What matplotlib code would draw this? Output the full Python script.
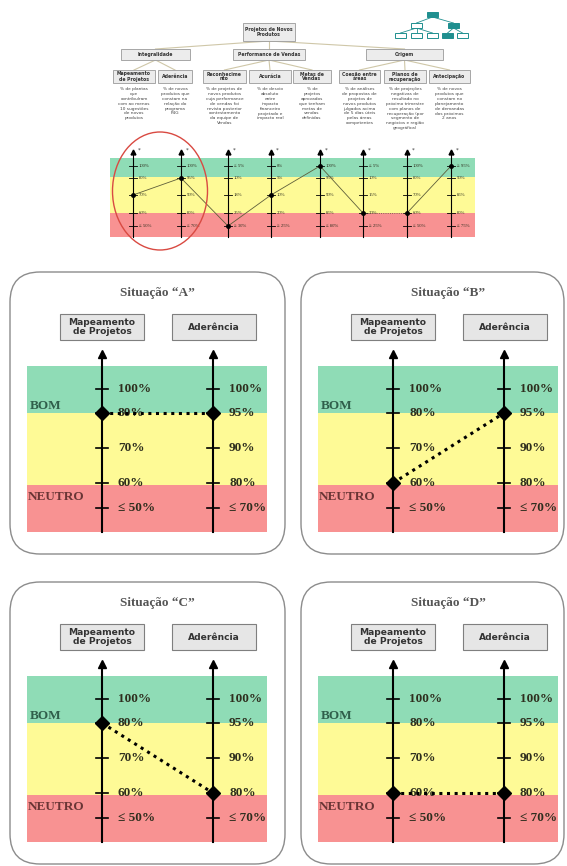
import matplotlib.pyplot as plt
from matplotlib.patches import FancyBboxPatch, Rectangle, Ellipse

# indicator tree
root_label = "Projetos de Novos\nProdutos"
groups = ["Integralidade", "Performance de Vendas", "Origem"]
indicators = ["Mapeamento\nde Projetos", "Aderência", "Reconhecime\nnto", "Acurácia",
              "Metas de\nVendas", "Coesão entre\náreas", "Planos de\nrecuperação", "Antecipação"]
group_of = [0, 0, 1, 1, 1, 2, 2, 2]
descriptions = [
    "% de plantas\nque\ncontribuíram\ncom ao menos\n10 sugestões\nde novos\nprodutos",
    "% de novos\nprodutos que\nconstam na\nrelação do\nprograma\nP4G",
    "% de projetos de\nnovos produtos\ncuja performance\nde vendas foi\nrevista posterior\ncontestamento\nda equipe de\nVendas",
    "% de desvio\nabsoluto\nentre\nimpacto\nfinanceiro\nprojetado e\nimpacto real",
    "% de\nprojetos\naprovados\nque tenham\nmetas de\nvendas\ndefinidas",
    "% de análises\nde propostas de\nprojetos de\nnovos produtos\njulgados acima\nde 5 dias úteis\npelas áreas\ncompetentes",
    "% de projeções\nnegativas de\nresultado no\npróximo trimestre\ncom planos de\nrecuperação (por\nsegmento de\nnegócios e região\ngeográfica)",
    "% de novos\nprodutos que\nconstam no\nplanejamento\nde demandas\ndos próximos\n2 anos",
]
scale_labels = [
    ["100%", "80%", "70%", "60%", "≤ 50%"],
    ["100%", "95%", "90%", "80%", "≤ 70%"],
    ["≤ 5%", "10%", "18%", "25%", "≥ 30%"],
    ["0%", "5%", "10%", "20%", "≥ 25%"],
    ["100%", "95%", "90%", "85%", "≤ 80%"],
    ["≤ 5%", "10%", "15%", "20%", "≥ 25%"],
    ["100%", "80%", "70%", "60%", "≤ 50%"],
    ["≥ 95%", "90%", "85%", "80%", "≤ 75%"],
]
# level reached by each indicator (0 = top of scale)
current_level = [2, 1, 4, 2, 0, 3, 3, 0]

# situations for the first two indicators
situations = ["A", "B", "C", "D"]
sit_mapeamento = [1, 3, 1, 3]
sit_aderencia = [1, 1, 3, 3]

GREEN = "#8fdcb6"
YELLOW = "#fefa96"
RED = "#f89292"
SERIF = ["Liberation Serif", "DejaVu Serif"]

W, H = 567, 866
fig = plt.figure(figsize=(W / 100, H / 100), dpi=100)
ax = fig.add_axes([0, 0, 1, 1])
ax.set_xlim(0, W)
ax.set_ylim(H, 0)
ax.axis("off")


def box(x, y, w, h, text, fs, fc="#ececec", ec="#9a9a9a", lw=0.6):
    ax.add_patch(Rectangle((x, y), w, h, facecolor=fc, edgecolor=ec, lw=lw))
    ax.text(x + w / 2, y + h / 2, text, ha="center", va="center", fontsize=fs,
            fontweight="bold", color="#333333", linespacing=1.0)


# --- tree ---
line_c = "#cfc7a8"
root = (243, 23, 52, 18)
g_boxes = [(121, 49, 69, 11), (233, 49, 72, 11), (366, 49, 77, 11)]
i_boxes = [(113, 155), (158, 192), (203, 246), (249, 291), (293, 331),
           (339, 380), (384, 426), (429, 470)]
rx = root[0] + root[2] / 2
for gb in g_boxes:
    ax.plot([rx, gb[0] + gb[2] / 2], [root[1] + root[3], gb[1]], color=line_c, lw=0.8, zorder=1)
for i, (x0, x1) in enumerate(i_boxes):
    gb = g_boxes[group_of[i]]
    ax.plot([gb[0] + gb[2] / 2, (x0 + x1) / 2], [gb[1] + gb[3], 70], color=line_c, lw=0.8, zorder=1)
box(*root, root_label, 3.3)
for gb, g in zip(g_boxes, groups):
    box(*gb, g, 3.3)
for (x0, x1), name, desc in zip(i_boxes, indicators, descriptions):
    box(x0, 70, x1 - x0, 13, name, 3.3)
    ax.text((x0 + x1) / 2, 87, desc, ha="center", va="top", fontsize=3.1,
            color="#444444", linespacing=1.3)

# small tree icon
teal = "#1f8f8f"
icon = [(427, 12, True), (411, 23, False), (448, 23, True),
        (395, 33, False), (411, 33, False), (427, 33, False), (442, 33, True), (457, 33, False)]
for a, b in [(0, 1), (0, 2), (1, 3), (1, 4), (1, 5), (2, 6), (2, 7)]:
    ax.plot([icon[a][0] + 5.5, icon[b][0] + 5.5], [icon[a][1] + 5, icon[b][1]], color=teal, lw=0.6)
for x, y, filled in icon:
    ax.add_patch(Rectangle((x, y), 11, 5, facecolor=teal if filled else "white",
                           edgecolor=teal, lw=0.7, zorder=3))

# --- scale strip ---
strip_x = [133, 181, 228, 271, 320, 363, 407, 451]
s_top, s_g, s_y, s_bot = 158, 177, 213, 237
s_ticks = [166, 178, 195, 213, 226]
ax.add_patch(Rectangle((110, s_top), 365, s_g - s_top, color=GREEN, lw=0))
ax.add_patch(Rectangle((110, s_g), 365, s_y - s_g, color=YELLOW, lw=0))
ax.add_patch(Rectangle((110, s_y), 365, s_bot - s_y, color=RED, lw=0))
for x, labels in zip(strip_x, scale_labels):
    ax.plot([x, x], [s_bot, 152], color="black", lw=0.8)
    ax.plot(x, 152, marker="^", color="black", ms=3.5)
    ax.text(x + 6, 150, "*", fontsize=4, color="#333333", ha="center", va="center")
    for ty, lab in zip(s_ticks, labels):
        ax.plot([x - 4, x + 4], [ty, ty], color="black", lw=0.6)
        ax.text(x + 6, ty, lab, fontsize=3.4, family=SERIF, color="#333322", va="center")
pts_y = [s_ticks[lv] for lv in current_level]
for i in range(len(strip_x) - 1):
    style = ":" if pts_y[i] == pts_y[i + 1] else "-"
    ax.plot(strip_x[i:i + 2], pts_y[i:i + 2], color="#5e5e3a", lw=0.6, ls=style, zorder=4)
ax.plot(strip_x, pts_y, "o", color="black", ms=2.5, lw=0, zorder=5)
ax.add_patch(Ellipse((160, 191), 95, 118, fill=False, edgecolor="#d94a42", lw=1.0, zorder=6))

# --- situation panels ---
offsets = [(0, 0), (291, 0), (0, 310), (291, 310)]
tick_off = [23, 47, 82, 117, 142]
for name, lv_m, lv_a, (dx, dy) in zip(situations, sit_mapeamento, sit_aderencia, offsets):
    bw = 275 if dx == 0 else 263
    ax.add_patch(FancyBboxPatch((10 + dx, 272 + dy), bw, 282,
                                boxstyle="round,pad=0,rounding_size=30",
                                facecolor="white", edgecolor="#8c8c8c", lw=1.0))
    ax_x = [102 + dx, 213 + dx]
    ax.text(sum(ax_x) / 2, 293 + dy, f"Situação “{name}”", ha="center", va="center",
            fontsize=9.5, family=SERIF, fontweight="bold", color="#555555")
    box(60 + dx, 314 + dy, 84, 26, "Mapeamento\nde Projetos", 6.6, fc="#e6e6e6", ec="#7f7f7f", lw=0.8)
    box(172 + dx, 314 + dy, 84, 26, "Aderência", 6.6, fc="#e6e6e6", ec="#7f7f7f", lw=0.8)
    top = 366 + dy
    ax.add_patch(Rectangle((27 + dx, top), 240, 47, color=GREEN, lw=0))
    ax.add_patch(Rectangle((27 + dx, top + 47), 240, 72, color=YELLOW, lw=0))
    ax.add_patch(Rectangle((27 + dx, top + 119), 240, 47, color=RED, lw=0))
    ax.text(30 + dx, 406 + dy, "BOM", fontsize=9.5, family=SERIF, fontweight="bold",
            color="#2f5e4a", va="center")
    ax.text(28 + dx, 497 + dy, "NEUTRO", fontsize=9.5, family=SERIF, fontweight="bold",
            color="#6a3535", va="center")
    for x, labels in zip(ax_x, scale_labels[:2]):
        ax.plot([x, x], [top + 166, 353 + dy], color="black", lw=1.5)
        ax.plot(x, 354 + dy, marker="^", color="black", ms=6)
        for off, lab in zip(tick_off, labels):
            ax.plot([x - 6, x + 6], [top + off, top + off], color="black", lw=1.2)
            ax.text(x + 16, top + off, lab, fontsize=9.5, family=SERIF, fontweight="bold",
                    color="#2e2e1e", va="center")
    ys = [top + tick_off[lv_m], top + tick_off[lv_a]]
    ax.plot(ax_x, ys, color="black", lw=2.2, ls=(0, (1, 1.5)), zorder=4)
    ax.plot(ax_x, ys, "D", color="black", ms=7, lw=0, zorder=5)

fig.savefig("out.png", dpi=100)
